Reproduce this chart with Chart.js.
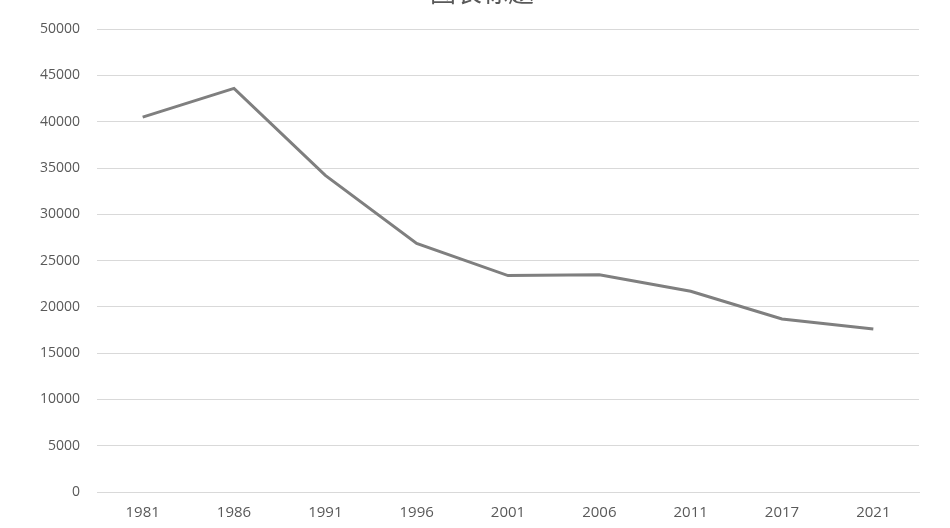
<!DOCTYPE html>
<html>
<head>
<meta charset="utf-8">
<script src="https://cdn.jsdelivr.net/npm/chart.js@4/dist/chart.umd.min.js"></script>
<style>
html,body{margin:0;padding:0;background:#fff;overflow:hidden;}
#wrap{position:absolute;left:0;top:-26px;width:950px;height:568px;}
</style>
</head>
<body>
<div id="wrap"><canvas id="c"></canvas></div>
<script>
const categories = ['1981','1986','1991','1996','2001','2006','2011','2017','2021'];
const values = [40500, 43600, 34200, 26850, 23380, 23480, 21680, 18700, 17600];
const titleText = '图表标题';

const titleShift = {
  id: 'titleShift',
  afterLayout(chart) {
    if (chart.titleBlock) { chart.titleBlock.left = 45; }
  }
};

new Chart(document.getElementById('c'), {
  type: 'line',
  data: {
    labels: categories,
    datasets: [{
      data: values,
      borderColor: '#7f7f7f',
      borderWidth: 3,
      pointRadius: 0,
      tension: 0,
      fill: false
    }]
  },
  plugins: [titleShift],
  options: {
    responsive: true,
    maintainAspectRatio: false,
    animation: false,
    layout: { padding: { left: 0, right: 31, top: 0, bottom: 8 } },
    plugins: {
      legend: { display: false },
      tooltip: { enabled: false },
      title: {
        display: true,
        text: titleText,
        color: '#595959',
        font: { family: '"Noto Sans CJK SC", sans-serif', size: 26, weight: 'normal' },
        padding: { top: 3, bottom: 21 }
      }
    },
    scales: {
      x: {
        offset: true,
        grid: { display: false, drawTicks: false },
        border: { display: true, color: '#d9d9d9', width: 1 },
        ticks: { color: '#595959', font: { family: '"Open Sans", sans-serif', size: 15 }, padding: 12, maxRotation: 0 }
      },
      y: {
        min: 0, max: 50000,
        afterFit: (s) => { s.width = 97; },
        grid: { color: '#d9d9d9', lineWidth: 1, drawTicks: false },
        border: { display: false },
        ticks: { stepSize: 5000, color: '#595959', font: { family: '"Open Sans", sans-serif', size: 14 }, padding: 17,
          callback: (v) => String(v) }
      }
    }
  }
});
</script>
</body>
</html>
